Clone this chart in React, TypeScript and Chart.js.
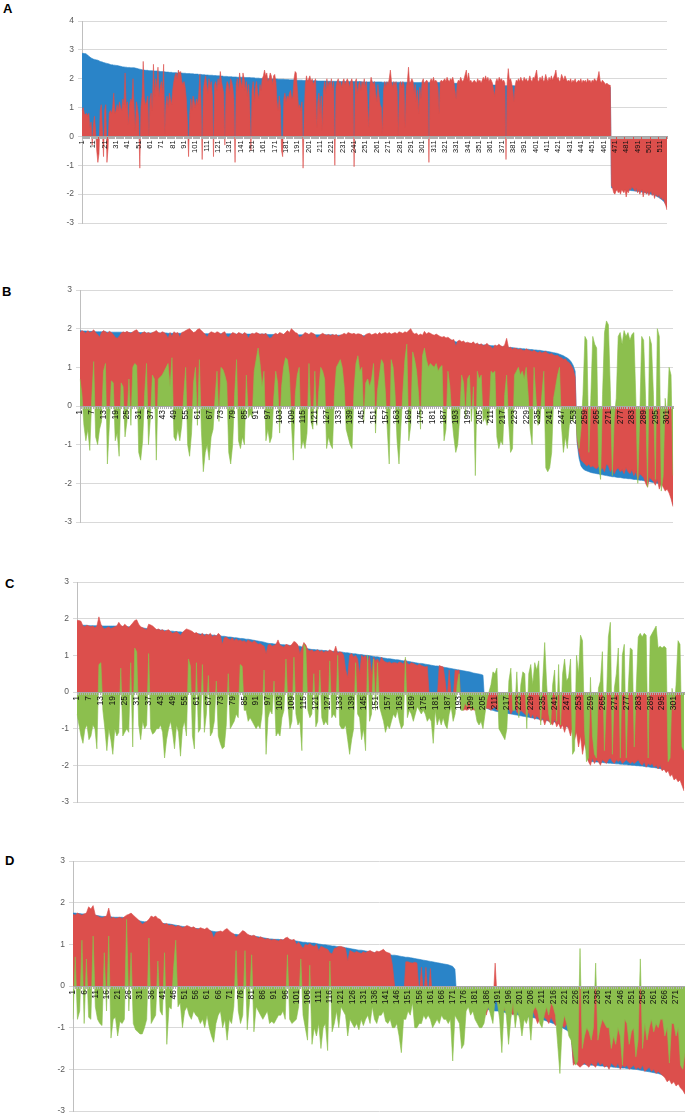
import { useEffect, useRef } from "react";
import { Chart, registerables } from "chart.js";

Chart.register(...registerables);

const BLUE = "#2a84c8";
const RED = "#dc4f4c";
const GREEN = "#8cbf4e";

// ---------- Panel A (517 categories) ----------
const blueA = [
  2.88,2.88,2.87,2.87,2.85,2.82,2.78,2.75,2.72,2.7,
  2.68,2.67,2.66,2.65,2.64,2.62,2.6,2.59,2.58,2.56,
  2.55,2.54,2.53,2.52,2.51,2.49,2.48,2.48,2.47,2.47,
  2.46,2.46,2.45,2.44,2.43,2.42,2.41,2.41,2.4,2.4,
  2.39,2.39,2.39,2.38,2.38,2.38,2.38,2.37,2.36,2.35,
  2.34,2.33,2.32,2.31,2.3,2.3,2.29,2.29,2.29,2.28,
  2.28,2.28,2.28,2.27,2.27,2.27,2.27,2.26,2.26,2.25,
  2.25,2.25,2.24,2.24,2.23,2.23,2.23,2.22,2.22,2.22,
  2.21,2.21,2.21,2.21,2.2,2.2,2.2,2.2,2.2,2.19,
  2.19,2.19,2.18,2.18,2.18,2.18,2.17,2.17,2.17,2.16,
  2.16,2.16,2.16,2.15,2.15,2.15,2.14,2.14,2.14,2.13,
  2.13,2.13,2.12,2.12,2.12,2.12,2.11,2.11,2.11,2.1,
  2.1,2.1,2.09,2.09,2.09,2.08,2.08,2.08,2.08,2.07,
  2.07,2.07,2.07,2.06,2.06,2.06,2.06,2.05,2.05,2.05,
  2.05,2.05,2.05,2.04,2.04,2.04,2.04,2.04,2.04,2.03,
  2.03,2.03,2.03,2.02,2.02,2.02,2.02,2.01,2.01,2.01,
  2.01,2.0,2.0,2.0,2.0,2.0,2.0,1.99,1.99,1.99,
  1.99,1.99,1.99,1.98,1.98,1.98,1.98,1.98,1.98,1.97,
  1.97,1.97,1.97,1.96,1.96,1.96,1.96,1.96,1.96,1.95,
  1.95,1.95,1.95,1.95,1.95,1.94,1.94,1.94,1.94,1.94,
  1.94,1.93,1.93,1.93,1.93,1.93,1.93,1.93,1.92,1.92,
  1.92,1.92,1.92,1.92,1.92,1.92,1.92,1.91,1.91,1.91,
  1.91,1.91,1.91,1.91,1.91,1.91,1.91,1.91,1.9,1.9,
  1.9,1.9,1.9,1.9,1.9,1.9,1.9,1.9,1.9,1.9,
  1.9,1.9,1.9,1.9,1.9,1.9,1.9,1.89,1.89,1.89,
  1.89,1.89,1.89,1.89,1.89,1.89,1.89,1.89,1.89,1.89,
  1.89,1.89,1.89,1.89,1.89,1.88,1.88,1.88,1.88,1.88,
  1.88,1.88,1.88,1.88,1.88,1.88,1.88,1.88,1.88,1.88,
  1.88,1.88,1.88,1.88,1.88,1.88,1.88,1.88,1.88,1.88,
  1.87,1.87,1.87,1.87,1.87,1.87,1.87,1.87,1.87,1.87,
  1.87,1.87,1.87,1.87,1.87,1.87,1.87,1.87,1.87,1.87,
  1.87,1.87,1.87,1.87,1.87,1.87,1.87,1.86,1.86,1.86,
  1.86,1.86,1.86,1.85,1.85,1.85,1.85,1.85,1.84,1.84,
  1.84,1.84,1.84,1.84,1.83,1.83,1.83,1.83,1.83,1.83,
  1.83,1.82,1.82,1.82,1.82,1.82,1.82,1.82,1.82,1.81,
  1.81,1.81,1.81,1.8,1.8,1.8,1.8,1.8,1.79,1.79,
  1.79,1.79,1.79,1.78,1.78,1.78,1.78,1.77,1.77,1.77,
  1.77,1.77,1.76,1.76,1.76,1.76,1.76,1.76,1.76,1.76,
  1.76,1.76,1.75,1.75,1.75,1.75,1.75,1.75,1.75,1.75,
  1.75,1.75,1.75,1.75,1.74,1.74,1.74,1.74,1.74,1.74,
  1.74,1.74,1.74,1.74,1.74,1.74,1.74,1.74,1.73,1.73,
  1.73,1.73,1.73,1.73,1.73,1.73,1.73,1.73,1.73,1.73,
  1.73,1.73,1.73,1.72,1.72,1.72,1.72,1.72,1.72,1.72,
  1.72,1.72,1.72,1.72,1.72,1.72,1.72,1.72,1.72,1.72,
  1.71,1.71,1.71,1.71,1.71,1.71,1.71,1.71,1.71,1.71,
  1.71,1.71,1.71,1.71,1.71,1.71,1.71,1.71,1.71,1.7,
  1.7,1.7,1.7,1.7,1.7,1.7,1.7,-1.78,-1.79,-1.8,
  -1.8,-1.81,-1.81,-1.82,-1.82,-1.83,-1.83,-1.84,-1.84,-1.85,
  -1.85,-1.86,-1.86,-1.87,-1.87,-1.88,-1.88,-1.89,-1.89,-1.9,
  -1.9,-1.91,-1.92,-1.92,-1.93,-1.94,-1.95,-1.95,-1.96,-1.97,
  -1.98,-1.99,-2.0,-2.01,-2.02,-2.04,-2.06,-2.08,-2.1,-2.12,
  -2.15,-2.18,-2.21,-2.25,-2.3,-2.36,-2.45,
];
const redA = [
  0.9,1.0,0.8,0.75,0.8,0.7,0.8,0.3,0.5,-0.3,
  0.4,0.7,0.2,-0.5,-0.9,-0.6,0.9,1.1,0.2,-0.7,
  0.9,1.1,-0.9,-0.4,0.8,0.9,0.8,1.0,1.5,0.8,
  0.9,1.1,0.9,1.2,1.0,0.9,1.3,1.1,2.2,1.0,
  1.2,0.4,1.1,1.3,1.2,2.0,1.0,0.2,1.2,1.0,
  0.6,-1.1,1.0,1.4,2.6,1.3,1.1,1.2,1.4,0.0,
  1.3,1.5,0.9,2.5,1.4,2.0,1.6,2.4,1.4,1.7,
  1.9,1.5,2.5,0.1,1.1,1.4,1.0,1.5,1.3,1.1,
  1.6,1.9,2.1,2.2,2.0,2.3,2.2,2.25,1.9,1.8,
  1.9,1.7,1.3,0.5,-0.7,0.8,1.3,0.9,1.4,1.2,
  1.0,1.3,1.1,1.5,2.15,1.2,-0.8,1.6,1.9,2.1,
  1.8,1.5,2.0,1.7,1.9,1.4,-0.7,1.8,1.9,1.6,
  2.0,1.8,2.25,1.9,1.7,1.5,-0.3,1.6,1.9,1.8,
  1.5,2.0,1.9,1.7,1.3,-0.9,1.8,2.0,1.6,2.2,
  1.9,1.7,2.2,2.0,1.6,1.9,1.4,1.8,1.0,-0.5,
  1.6,1.9,1.2,1.7,1.9,1.5,1.3,1.8,1.6,2.0,
  2.1,2.3,2.1,2.2,1.9,2.0,2.2,2.1,1.8,2.1,
  2.15,1.9,1.2,0.9,1.4,1.0,-0.5,-0.7,1.3,1.5,
  1.2,1.4,1.3,1.5,1.6,1.3,1.4,2.0,2.25,2.2,
  1.6,1.0,1.1,0.9,1.2,-1.1,0.8,1.8,2.1,1.9,
  2.0,2.1,1.9,2.0,1.8,1.9,2.0,0.3,1.2,1.5,
  0.8,1.4,0.2,1.6,1.9,1.5,2.0,1.7,1.9,1.8,
  2.0,1.6,1.9,-1.0,1.7,1.9,2.0,1.8,1.9,1.7,
  1.9,2.0,1.8,1.9,2.0,1.9,1.7,1.9,2.0,1.8,
  -1.05,1.9,2.0,1.5,1.8,1.9,1.6,1.9,1.8,2.0,
  1.7,1.9,1.0,0.3,1.8,2.05,1.9,1.8,1.9,1.5,
  1.2,1.8,1.4,1.1,1.0,0.1,1.6,1.9,1.7,1.9,
  1.8,2.0,2.3,1.9,1.7,1.9,1.8,1.9,1.6,0.0,
  1.8,1.9,1.7,1.9,1.8,0.3,1.7,1.9,2.4,1.8,
  1.9,2.0,1.9,1.5,1.8,1.2,1.6,0.8,1.7,1.3,
  1.9,2.0,1.8,1.9,1.95,1.9,-0.9,1.9,2.0,1.9,
  2.05,1.9,1.95,1.9,1.7,0.8,1.9,1.95,1.9,1.95,
  2.0,1.9,2.05,1.95,1.9,2.0,1.95,2.05,1.9,1.6,
  1.3,1.85,1.95,1.9,2.05,1.95,1.9,2.0,2.15,2.3,
  1.95,2.2,1.9,1.95,1.85,1.9,1.95,1.9,1.85,2.0,
  1.9,1.95,1.85,1.95,2.05,1.95,2.1,1.95,2.05,1.9,
  2.0,1.95,1.85,1.6,1.4,1.9,2.0,1.9,2.05,1.95,
  2.0,1.9,1.95,1.85,-0.8,1.85,2.35,1.95,2.0,1.85,
  1.6,1.2,1.75,1.95,1.9,2.0,1.9,2.05,1.95,1.9,
  2.05,1.95,2.0,1.9,1.95,2.1,1.95,1.9,2.05,2.0,
  2.15,2.3,1.95,1.9,2.05,1.95,2.1,1.9,1.95,2.15,
  2.0,1.9,2.05,1.95,2.1,1.95,2.05,2.15,2.3,2.0,
  2.05,1.9,1.95,2.15,2.05,1.95,2.1,2.0,1.9,1.95,
  1.9,2.0,1.85,1.95,1.9,2.0,1.85,1.9,1.95,1.9,
  2.0,1.85,1.95,1.9,1.95,1.85,2.0,1.9,1.95,1.85,
  1.95,1.9,2.0,1.95,1.9,2.05,2.25,1.95,1.85,1.95,
  1.9,1.85,1.8,1.85,1.8,1.78,1.77,-1.7,-1.8,-1.95,
  -2.0,-1.9,-1.85,-1.95,-1.9,-2.0,-1.85,-1.9,-1.95,-1.85,
  -2.1,-1.9,-1.95,-1.8,-1.85,-1.75,-1.8,-1.85,-1.9,-1.8,
  -1.95,-1.85,-2.0,-1.9,-1.85,-2.1,-1.9,-1.95,-2.0,-1.9,
  -2.05,-1.95,-1.9,-2.05,-1.95,-2.15,-2.0,-2.05,-2.1,-2.0,
  -2.15,-2.1,-2.2,-2.15,-2.3,-2.4,-2.55,
];

// ---------- Panel B (304 categories) ----------
const blueB = [
  1.95,1.94,1.94,1.94,1.93,1.93,1.93,1.93,1.92,1.92,
  1.92,1.92,1.92,1.92,1.91,1.91,1.91,1.91,1.91,1.91,
  1.91,1.91,1.9,1.9,1.9,1.9,1.9,1.9,1.9,1.9,
  1.9,1.9,1.9,1.89,1.89,1.89,1.89,1.89,1.89,1.89,
  1.89,1.89,1.89,1.89,1.89,1.88,1.88,1.88,1.88,1.88,
  1.88,1.88,1.88,1.88,1.88,1.88,1.88,1.88,1.88,1.88,
  1.88,1.88,1.88,1.87,1.87,1.87,1.87,1.87,1.87,1.87,
  1.87,1.87,1.87,1.87,1.87,1.87,1.87,1.87,1.86,1.86,
  1.86,1.86,1.86,1.86,1.86,1.86,1.86,1.86,1.86,1.86,
  1.86,1.86,1.86,1.86,1.86,1.86,1.85,1.85,1.85,1.85,
  1.85,1.85,1.85,1.85,1.85,1.85,1.85,1.85,1.85,1.85,
  1.85,1.84,1.84,1.84,1.84,1.84,1.84,1.84,1.84,1.84,
  1.84,1.84,1.84,1.84,1.84,1.84,1.84,1.84,1.84,1.84,
  1.83,1.83,1.83,1.83,1.83,1.83,1.83,1.83,1.83,1.83,
  1.83,1.83,1.83,1.82,1.82,1.82,1.82,1.82,1.82,1.82,
  1.82,1.82,1.82,1.82,1.82,1.82,1.81,1.81,1.81,1.81,
  1.81,1.81,1.81,1.81,1.81,1.8,1.8,1.8,1.8,1.8,
  1.8,1.8,1.8,1.79,1.79,1.79,1.79,1.79,1.78,1.78,
  1.78,1.77,1.77,1.76,1.76,1.75,1.74,1.73,1.72,1.71,
  1.7,1.68,1.66,1.65,1.64,1.64,1.63,1.63,1.62,1.62,
  1.61,1.61,1.6,1.6,1.59,1.59,1.58,1.58,1.57,1.57,
  1.56,1.56,1.55,1.55,1.54,1.54,1.53,1.53,1.52,1.52,
  1.51,1.51,1.5,1.5,1.49,1.49,1.48,1.48,1.47,1.47,
  1.46,1.46,1.45,1.45,1.44,1.44,1.43,1.42,1.42,1.41,
  1.4,1.39,1.38,1.37,1.36,1.34,1.32,1.3,1.27,1.24,
  1.2,1.14,1.05,0.9,-0.95,-1.35,-1.55,-1.62,-1.66,-1.68,
  -1.7,-1.72,-1.73,-1.74,-1.75,-1.76,-1.77,-1.78,-1.79,-1.8,
  -1.81,-1.82,-1.83,-1.83,-1.84,-1.85,-1.85,-1.86,-1.87,-1.87,
  -1.88,-1.88,-1.89,-1.9,-1.9,-1.91,-1.92,-1.92,-1.93,-1.94,
  -1.95,-1.96,-1.97,-1.98,-1.99,-2.0,-2.01,-2.03,-2.05,-2.08,
  -2.12,-2.18,-2.3,-2.55,
];
const redB = [
  1.9,1.95,1.92,1.88,1.95,1.9,1.92,1.97,1.9,1.85,
  1.78,1.9,1.95,1.92,1.88,1.93,1.9,1.85,1.78,1.75,
  1.8,1.88,1.92,1.9,1.93,1.9,1.88,1.92,1.95,1.97,
  1.9,1.85,1.9,1.92,1.88,1.9,1.87,1.9,1.92,1.95,
  1.9,1.88,1.92,1.9,1.85,1.75,1.9,1.8,1.92,1.88,
  1.9,1.78,1.9,1.92,1.95,1.98,2.0,1.95,1.9,1.92,
  1.98,2.0,1.95,1.9,1.85,1.78,1.88,1.92,1.9,1.88,
  1.92,1.9,1.85,1.9,1.92,1.8,1.78,1.85,1.9,1.88,
  1.85,1.9,1.88,1.85,1.9,1.87,1.75,1.85,1.88,1.86,
  1.9,1.88,1.85,1.87,1.85,1.88,1.8,1.75,1.78,1.85,
  1.88,1.85,1.9,1.88,1.85,1.9,1.95,1.9,2.0,1.95,
  1.9,1.88,1.78,1.8,1.85,1.9,1.88,1.85,1.9,1.88,
  1.85,1.75,1.8,1.85,1.88,1.85,1.83,1.85,1.82,1.85,
  1.83,1.85,1.8,1.83,1.85,1.88,1.85,1.9,1.88,1.86,
  1.88,1.85,1.87,1.86,1.84,1.78,1.85,1.87,1.88,1.84,
  1.86,1.88,1.85,1.9,1.86,1.88,1.9,1.87,1.9,1.86,
  1.88,1.9,1.87,1.92,1.9,1.88,1.92,1.9,1.95,2.0,
  1.9,1.86,1.88,1.83,1.86,1.83,1.93,1.86,1.9,1.88,
  1.85,1.83,1.86,1.83,1.8,1.78,1.8,1.76,1.78,1.74,
  1.7,1.72,1.55,1.68,1.7,1.66,1.68,1.63,1.65,1.63,
  1.62,1.66,1.6,1.63,1.58,1.61,1.56,1.58,1.62,1.56,
  1.53,1.48,1.58,1.55,1.6,1.56,1.53,1.58,1.75,1.5,
  1.52,1.47,1.5,1.48,1.46,1.48,1.45,1.43,1.48,1.45,
  1.43,1.41,1.44,1.4,1.38,1.41,1.37,1.39,1.41,1.36,
  1.34,1.36,1.32,1.3,1.31,1.27,1.25,1.2,1.22,1.15,
  1.12,1.05,0.95,0.75,-0.9,-1.2,-1.4,-1.45,-1.5,-1.55,
  -1.5,-1.58,-1.55,-1.6,-1.62,-1.55,-1.65,-1.6,-1.7,-1.5,
  -1.55,-1.7,-1.6,-1.75,-1.65,-1.6,-1.7,-1.65,-1.75,-1.6,
  -1.7,-1.75,-1.65,-1.8,-1.7,-1.9,-1.75,-1.8,-1.85,-2.0,
  -2.1,-1.85,-1.9,-1.95,-2.05,-1.9,-2.15,-2.0,-2.1,-2.2,
  -2.15,-2.25,-2.4,-2.6,
];
const greenB = [
  0.7,0.3,-0.5,-0.9,-0.6,-1.15,0.2,1.15,-0.8,-1.0,
  -0.6,-0.4,0.9,1.1,-1.5,-0.5,0.65,0.6,-0.9,-0.7,
  -1.3,0.6,0.5,-0.8,-0.4,0.7,-0.5,1.0,1.1,1.05,
  -1.2,-1.4,-0.9,0.3,1.1,-1.0,-0.3,0.8,0.7,-1.4,
  0.7,0.75,0.8,0.9,1.0,1.1,0.5,1.25,-0.8,-0.9,
  -0.6,-0.9,-0.5,0.3,1.0,-1.0,-1.3,-0.7,0.6,1.0,
  -0.5,1.2,-0.6,-1.7,-1.2,-1.0,-1.4,-0.8,-0.6,0.2,
  0.9,-0.4,1.0,0.95,0.8,0.6,-1.2,-1.5,-1.0,0.3,
  1.2,-0.9,-1.1,-0.8,-1.0,0.8,-0.3,-0.2,-0.3,0.9,
  1.2,1.5,1.1,0.5,0.9,-0.9,-0.6,-0.95,-0.8,0.2,
  0.9,0.6,-0.7,0.5,1.0,1.25,1.2,0.8,-0.4,-1.4,
  0.3,0.8,1.0,-1.1,-0.9,-1.1,-0.7,1.1,-0.4,-0.6,
  0.9,-0.5,0.4,1.0,0.9,0.7,-1.1,-0.8,-1.0,-1.1,
  0.3,1.0,1.1,1.2,1.0,0.5,-0.6,-0.8,-1.0,-1.1,
  0.4,1.1,1.3,0.9,1.0,-0.4,0.6,0.7,0.5,0.7,
  1.1,-0.7,0.4,0.8,1.2,1.1,0.4,-0.6,-1.5,1.2,
  1.0,0.3,-0.9,-1.5,-0.5,0.4,1.2,1.6,-0.9,-0.5,
  1.4,1.2,0.9,0.3,-0.6,1.3,1.5,1.2,1.0,1.1,
  1.05,1.0,1.1,0.9,1.0,1.05,-0.9,-0.6,0.9,0.5,
  -0.3,-0.8,-1.2,-1.0,-0.3,0.8,0.6,-0.3,0.7,0.8,
  -0.4,0.5,-1.8,0.9,0.7,0.8,-0.4,-0.3,-0.5,-0.3,
  0.9,0.85,0.9,-0.8,-1.1,-0.9,-1.0,0.3,0.8,-0.4,
  -1.2,-1.1,0.8,0.9,1.0,0.8,0.9,0.7,1.0,0.3,
  -0.6,-1.0,1.0,0.2,-0.5,-0.4,0.3,0.9,-1.6,-1.7,
  -1.6,-1.2,0.2,0.5,0.8,1.0,-0.5,-1.2,-0.8,-1.1,
  -0.5,-0.3,-0.4,0.0,-0.8,-1.1,-0.6,0.3,1.8,1.7,
  -1.2,0.2,1.8,1.6,1.5,-1.5,-1.9,0.3,1.9,2.2,
  2.1,0.4,-1.8,-0.3,0.2,1.8,1.9,1.6,1.95,1.8,
  1.9,1.7,1.85,1.9,0.2,-2.0,-0.3,1.8,1.7,0.2,
  -2.1,1.8,1.6,0.3,-1.9,2.0,1.8,-2.2,-1.8,0.2,
  -0.3,1.0,0.8,-1.8,
];

// ---------- Panel C (306 categories) ----------
const blueC = [
  1.83,1.83,1.82,1.82,1.82,1.82,1.81,1.81,1.81,1.81,
  1.81,1.81,1.81,1.8,1.8,1.8,1.8,1.8,1.8,1.8,
  1.8,1.79,1.79,1.79,1.78,1.78,1.78,1.77,1.77,1.77,
  1.76,1.76,1.75,1.75,1.74,1.73,1.73,1.72,1.71,1.71,
  1.7,1.7,1.69,1.69,1.68,1.67,1.67,1.66,1.66,1.65,
  1.65,1.64,1.64,1.63,1.63,1.62,1.62,1.61,1.6,1.6,
  1.59,1.59,1.58,1.58,1.57,1.57,1.56,1.56,1.55,1.55,
  1.54,1.53,1.53,1.52,1.52,1.51,1.5,1.5,1.49,1.48,
  1.48,1.47,1.46,1.46,1.45,1.44,1.44,1.43,1.42,1.41,
  1.4,1.39,1.38,1.37,1.36,1.34,1.33,1.32,1.32,1.31,
  1.31,1.3,1.3,1.29,1.29,1.28,1.28,1.27,1.27,1.26,
  1.26,1.25,1.25,1.23,1.21,1.19,1.18,1.17,1.16,1.16,
  1.15,1.15,1.14,1.14,1.13,1.13,1.12,1.12,1.11,1.11,
  1.1,1.1,1.09,1.09,1.08,1.07,1.07,1.06,1.05,1.04,
  1.04,1.03,1.02,1.02,1.01,1.0,1.0,0.99,0.98,0.97,
  0.96,0.96,0.95,0.94,0.93,0.92,0.91,0.91,0.9,0.89,
  0.88,0.88,0.87,0.86,0.85,0.85,0.84,0.83,0.82,0.81,
  0.8,0.79,0.78,0.78,0.77,0.76,0.75,0.74,0.73,0.72,
  0.71,0.71,0.7,0.69,0.68,0.67,0.66,0.65,0.64,0.63,
  0.62,0.61,0.6,0.59,0.58,0.57,0.56,0.55,0.54,0.52,
  0.51,0.5,0.49,0.48,0.46,-0.42,-0.45,-0.47,-0.49,-0.5,
  -0.52,-0.53,-0.54,-0.55,-0.56,-0.57,-0.58,-0.59,-0.6,-0.61,
  -0.62,-0.63,-0.64,-0.65,-0.66,-0.67,-0.68,-0.69,-0.7,-0.71,
  -0.72,-0.73,-0.74,-0.75,-0.76,-0.77,-0.78,-0.79,-0.8,-0.81,
  -0.82,-0.84,-0.86,-0.88,-0.9,-0.92,-0.94,-0.96,-0.98,-1.0,
  -1.03,-1.06,-1.1,-1.14,-1.18,-1.22,-1.28,-1.88,-1.89,-1.9,
  -1.9,-1.91,-1.91,-1.92,-1.92,-1.93,-1.93,-1.94,-1.94,-1.95,
  -1.95,-1.96,-1.96,-1.97,-1.97,-1.98,-1.98,-1.99,-1.99,-2.0,
  -2.0,-2.01,-2.01,-2.02,-2.02,-2.03,-2.04,-2.04,-2.05,-2.06,
  -2.06,-2.07,-2.08,-2.09,-2.1,-2.11,-2.12,-2.13,-2.15,-2.17,
  -2.19,-2.22,-2.26,-2.32,-2.4,-2.62,
];
const redC = [
  1.95,1.95,1.93,1.8,1.78,1.82,1.8,1.78,1.8,1.75,
  1.8,2.05,1.85,1.75,1.72,1.75,1.78,1.73,1.75,1.78,
  1.8,1.9,1.82,1.78,1.85,1.8,1.75,1.82,1.88,1.95,
  1.97,1.85,1.78,1.75,1.72,1.7,1.85,1.83,1.8,1.75,
  1.7,1.72,1.68,1.7,1.65,1.68,1.7,1.65,1.6,1.62,
  1.65,1.6,1.55,1.62,1.68,1.72,1.7,1.68,1.65,1.6,
  1.62,1.58,1.55,1.6,1.52,1.58,1.55,1.6,1.5,1.55,
  1.52,1.6,1.55,1.3,1.48,1.5,1.45,1.42,1.48,1.4,
  1.45,1.4,1.42,1.38,1.4,1.35,1.42,1.38,1.35,1.4,
  1.35,1.3,1.32,1.28,1.25,1.05,1.28,1.3,1.25,1.27,
  1.3,1.42,1.28,1.25,1.22,1.3,1.28,1.25,1.3,1.38,
  1.35,1.28,1.05,1.2,1.35,1.28,1.15,1.12,1.15,1.1,
  1.12,1.15,1.1,1.13,1.08,1.12,1.1,1.15,1.12,1.08,
  1.25,1.05,1.1,1.08,1.0,0.6,0.4,1.0,1.05,0.95,
  1.0,0.9,0.5,1.0,0.95,1.0,0.8,0.98,0.5,0.95,
  0.85,0.9,0.8,0.95,0.85,0.82,0.8,0.82,0.78,0.8,
  0.8,0.78,0.82,0.8,0.76,0.9,0.78,0.75,0.8,0.78,
  0.75,0.72,0.76,0.72,0.7,0.68,0.7,-0.1,-0.2,-0.15,
  -0.1,-0.2,0.72,0.7,0.68,0.3,-0.2,0.6,-0.1,-0.2,
  0.6,0.58,0.6,-0.45,-0.5,-0.48,-0.5,-0.45,-0.5,-0.48,
  -0.5,-0.45,-0.48,-0.5,-0.45,-0.4,-0.45,-0.45,-0.5,-0.45,
  -0.4,-0.5,-0.48,-0.45,-0.5,-0.55,-0.5,-0.45,-0.6,-0.5,
  -0.3,-0.55,-0.6,-0.5,-0.55,-0.6,-0.65,-0.55,-0.7,-0.6,
  -0.75,-0.65,-0.7,-0.8,-0.7,-0.9,-0.75,-0.8,-0.85,-0.9,
  -0.75,-0.95,-0.85,-1.0,-0.9,-1.1,-0.9,-1.0,-1.2,-0.95,
  -1.3,-1.1,-1.5,-1.2,-1.7,-1.4,-1.6,-1.9,-2.0,-1.8,
  -1.95,-1.85,-1.9,-2.0,-1.85,-1.9,-1.95,-1.85,-1.8,-1.9,
  -1.95,-1.85,-1.9,-1.85,-1.95,-1.9,-1.85,-1.9,-1.95,-1.9,
  -1.95,-1.9,-1.85,-1.95,-2.0,-1.9,-2.05,-1.95,-2.0,-1.95,
  -2.05,-2.0,-2.1,-2.0,-2.15,-2.1,-2.2,-2.15,-2.3,-2.25,
  -2.4,-2.35,-2.45,-2.4,-2.55,-2.7,
];
const greenC = [
  -0.6,-0.9,-1.2,-1.4,-1.0,-0.9,-1.3,-1.2,-0.9,-1.0,
  -1.55,0.75,0.8,-0.5,-1.0,-1.6,-1.0,-1.3,-1.7,-1.0,
  -1.2,-1.1,0.65,-1.2,-1.1,-1.0,-1.1,0.8,-1.5,1.2,
  1.1,-0.9,-1.3,-0.8,-1.0,-0.9,1.05,-1.0,-1.15,-1.1,
  -1.0,-1.0,-0.9,-1.1,-1.8,-1.3,-1.0,-0.8,-1.1,-1.55,
  -0.9,-1.1,-1.75,-1.0,-0.8,-1.2,0.9,0.7,-1.2,-1.55,
  0.8,-1.1,-1.0,0.75,-1.1,-0.6,0.45,-1.2,-1.1,-0.8,
  0.3,-1.2,-1.4,-1.55,-1.5,-0.9,0.5,-1.0,-0.9,-0.8,
  -0.6,-0.7,0.75,0.7,-0.5,-0.5,-0.8,-0.7,-0.8,-0.9,
  -1.0,-0.9,-1.0,-0.6,0.6,-1.7,-0.7,-0.5,-0.6,0.3,
  -1.2,-1.1,-1.2,-0.7,-0.5,0.9,-0.4,-1.0,-0.8,0.95,
  -0.6,-0.9,-0.8,-1.6,1.3,1.2,-0.5,-0.7,-0.6,0.5,
  -0.95,-0.8,0.6,-0.7,-0.9,-0.8,-0.9,0.85,-0.7,-0.6,
  -0.7,1.0,-0.9,-1.0,-1.0,-0.9,-1.3,-1.7,-1.3,-1.0,
  0.8,-0.6,-0.7,-1.3,-1.0,-1.6,1.0,-0.8,-0.6,0.9,
  -0.5,0.8,-0.4,-0.6,-0.8,-1.1,-0.9,-1.0,-0.8,-0.6,
  -0.7,-0.5,-0.8,-1.0,-0.9,0.95,-0.7,-0.5,-0.6,-0.8,
  -0.6,-0.4,-0.5,-0.6,-0.5,-0.6,-0.8,-0.7,-0.8,-1.4,
  -0.5,-0.9,-0.7,-0.9,-0.7,-0.9,-1.0,-0.6,-0.4,-0.8,
  -0.6,0.2,0.5,-0.5,-0.5,-0.3,-0.4,-0.2,-0.5,-0.4,
  -0.5,-0.8,-0.9,-0.8,-1.0,-0.6,-0.2,0.0,0.2,0.55,
  0.5,0.65,-1.0,-1.1,-1.2,-1.3,-1.0,0.3,0.65,-0.5,
  -0.5,0.55,-0.7,0.2,0.55,0.5,-1.0,0.5,0.75,0.2,
  0.8,0.6,0.85,-0.9,0.3,1.35,0.2,-0.6,-0.9,0.2,
  0.6,-0.8,0.75,-0.9,0.5,0.9,0.3,0.4,0.9,-1.7,
  -1.6,1.0,0.5,1.55,1.4,-1.0,-1.9,-1.8,0.4,-1.2,
  -1.7,-1.8,0.1,0.3,1.1,-1.6,-0.3,1.5,1.9,-1.7,
  0.1,0.5,1.2,-1.8,1.0,1.3,-1.8,0.1,1.2,1.15,
  -1.5,0.1,1.5,1.6,1.5,1.6,1.55,-1.8,1.5,1.6,
  1.7,1.8,1.2,1.25,1.2,1.25,1.2,-1.9,-1.8,0.1,
  -0.5,0.2,1.4,1.3,-1.5,-1.6,
];

// ---------- Panel D (275 categories) ----------
const blueD = [
  1.75,1.75,1.74,1.74,1.73,1.73,1.72,1.72,1.71,1.71,
  1.7,1.69,1.68,1.67,1.67,1.66,1.66,1.66,1.65,1.65,
  1.65,1.65,1.65,1.64,1.64,1.64,1.63,1.62,1.6,1.58,
  1.56,1.55,1.54,1.54,1.53,1.53,1.52,1.52,1.51,1.51,
  1.5,1.5,1.49,1.49,1.48,1.47,1.46,1.45,1.44,1.43,
  1.42,1.41,1.41,1.4,1.39,1.38,1.38,1.37,1.36,1.35,
  1.34,1.33,1.32,1.31,1.3,1.3,1.29,1.28,1.27,1.27,
  1.26,1.25,1.24,1.24,1.23,1.23,1.22,1.22,1.21,1.21,
  1.2,1.2,1.19,1.18,1.17,1.16,1.15,1.14,1.13,1.13,
  1.12,1.12,1.12,1.11,1.11,1.11,1.1,1.1,1.1,1.09,
  1.08,1.07,1.06,1.05,1.05,1.04,1.04,1.03,1.03,1.02,
  1.01,1.0,0.99,0.99,0.98,0.97,0.96,0.96,0.95,0.94,
  0.93,0.93,0.92,0.91,0.9,0.89,0.88,0.87,0.86,0.86,
  0.85,0.84,0.83,0.82,0.81,0.8,0.8,0.79,0.78,0.77,
  0.77,0.76,0.75,0.74,0.74,0.73,0.72,0.71,0.7,0.69,
  0.69,0.68,0.67,0.66,0.65,0.64,0.63,0.62,0.61,0.6,
  0.59,0.58,0.57,0.56,0.55,0.54,0.53,0.52,0.51,0.49,
  0.47,0.4,-0.45,-0.46,-0.47,-0.48,-0.49,-0.5,-0.5,-0.51,
  -0.52,-0.53,-0.54,-0.55,-0.55,-0.56,-0.57,-0.58,-0.59,-0.6,
  -0.6,-0.61,-0.62,-0.63,-0.64,-0.65,-0.66,-0.67,-0.68,-0.69,
  -0.7,-0.71,-0.72,-0.73,-0.74,-0.75,-0.76,-0.77,-0.78,-0.79,
  -0.8,-0.82,-0.84,-0.86,-0.88,-0.9,-0.92,-0.94,-0.97,-1.0,
  -1.03,-1.06,-1.1,-1.15,-1.85,-1.86,-1.87,-1.87,-1.88,-1.88,
  -1.89,-1.89,-1.9,-1.9,-1.91,-1.91,-1.92,-1.92,-1.93,-1.93,
  -1.94,-1.94,-1.95,-1.95,-1.96,-1.96,-1.97,-1.97,-1.98,-1.98,
  -1.99,-2.0,-2.0,-2.01,-2.02,-2.03,-2.04,-2.05,-2.06,-2.07,
  -2.08,-2.09,-2.1,-2.12,-2.14,-2.16,-2.18,-2.2,-2.22,-2.25,
  -2.28,-2.32,-2.37,-2.43,-2.5,
];
const redD = [
  1.72,1.7,1.75,1.72,1.7,1.73,1.75,1.9,1.85,1.93,
  1.7,1.68,1.65,1.63,1.66,1.68,1.87,1.62,1.65,1.62,
  1.63,1.65,1.62,1.66,1.7,1.72,1.75,1.7,1.65,1.6,
  1.55,1.48,1.52,1.55,1.6,1.68,1.65,1.68,1.62,1.6,
  1.52,1.48,1.5,1.45,1.47,1.45,1.42,1.45,1.43,1.4,
  1.42,1.45,1.43,1.4,1.42,1.38,1.36,1.4,1.38,1.36,
  1.4,1.35,1.3,1.15,1.28,1.3,1.32,1.3,1.35,1.38,
  1.32,1.28,1.25,1.17,1.22,1.28,1.33,1.3,1.25,1.22,
  1.2,1.22,1.18,1.15,1.18,1.15,1.12,1.14,1.12,1.1,
  1.12,1.1,1.08,1.12,1.1,1.15,1.17,1.12,1.1,1.12,
  1.0,1.05,0.98,0.9,1.0,0.98,1.02,0.97,0.95,1.0,
  0.85,0.95,0.93,0.9,0.88,0.8,0.77,0.9,0.92,0.95,
  0.95,0.93,0.9,0.6,0.85,0.82,0.8,0.83,0.8,0.78,
  0.82,0.8,0.83,0.85,0.82,0.8,0.84,0.82,0.85,0.88,
  0.82,0.8,0.78,0.5,0.0,-0.3,-0.4,-0.5,-0.3,0.58,
  0.58,0.56,0.55,0.57,0.55,-0.2,0.45,-0.3,0.45,-0.3,
  0.42,-0.4,-0.3,-0.5,-0.4,-0.3,-0.5,-0.4,-0.3,-0.5,
  -0.4,-0.3,-0.4,-0.3,-0.5,-0.4,-0.3,-0.4,-0.5,-0.3,
  -0.4,-0.5,-0.4,-0.6,-0.5,-0.7,-0.5,-0.4,-0.5,0.55,
  -0.4,-0.5,-0.4,-0.6,-0.5,-0.7,-0.6,-0.7,-0.5,-0.6,
  -0.5,-0.6,-0.7,-0.6,-0.65,-0.7,-0.6,-0.75,-0.9,-0.8,
  -0.7,-0.75,-0.8,-0.9,-0.75,-0.85,-0.95,-0.9,-0.85,-0.95,
  -1.0,-0.9,-1.05,-1.1,-1.9,-1.85,-1.9,-1.95,-1.9,-1.85,
  -1.9,-1.95,-1.85,-1.9,-1.95,-1.8,-1.9,-1.85,-1.95,-1.9,
  -2.0,-1.85,-1.9,-1.95,-1.85,-2.0,-1.9,-1.95,-1.9,-2.0,
  -1.95,-1.9,-2.0,-1.95,-2.0,-1.9,-2.05,-2.0,-1.95,-2.05,
  -2.0,-2.1,-2.05,-2.1,-2.15,-2.2,-2.3,-2.25,-2.35,-2.3,
  -2.4,-2.35,-2.45,-2.5,-2.6,
];
const greenD = [
  -0.8,0.7,-0.8,-0.6,1.1,-0.9,0.65,-0.75,-0.8,1.2,
  -0.5,-0.8,-0.9,-0.95,0.8,-0.6,1.2,-1.25,-0.8,-0.75,
  -1.2,-0.85,-0.9,-0.8,1.6,-0.6,0.8,-0.9,-1.05,-1.1,
  -1.15,-1.15,-1.0,-0.8,1.15,-0.9,-0.8,-0.7,0.6,-0.6,
  -0.7,0.8,-1.4,-0.5,-0.55,0.4,1.1,-0.5,-0.4,-1.0,
  -0.6,-0.5,-0.7,-0.8,-0.6,-0.7,-0.75,-0.9,-0.8,-1.0,
  -0.7,-1.0,-1.2,-1.35,-0.9,-0.7,-0.6,-1.0,-0.8,-1.3,
  -0.8,-0.9,-0.5,0.85,-0.6,-0.9,-0.7,0.85,-1.05,-0.4,
  0.75,-1.1,-0.5,-0.6,-0.7,-0.8,-0.7,-0.6,-0.9,-0.85,
  -0.9,-0.8,-0.7,-0.7,-0.6,-0.8,0.75,-0.8,-0.9,-0.85,
  -0.8,-0.5,0.65,-0.7,-1.0,-1.3,0.5,-1.4,-1.0,-1.2,
  -0.9,-1.5,-1.0,-0.9,-1.55,0.6,-1.1,-0.9,-0.6,-1.0,
  -0.5,-0.6,-0.7,-1.2,-0.8,-0.9,-1.0,-0.9,-1.05,-0.8,
  -0.95,-0.8,-0.7,-0.9,-0.5,-0.8,-0.9,-0.7,-0.7,-0.6,
  -0.85,-0.9,-0.8,-1.0,-1.0,-0.9,-1.2,-1.6,-0.8,-0.8,
  -0.6,-0.7,-0.4,-1.0,-1.0,-0.9,-0.9,-0.7,-0.8,-0.7,
  -0.8,-1.0,-0.9,-0.8,-0.9,-0.7,-0.8,-0.8,-0.9,-0.8,
  -1.8,-0.7,-0.8,-0.9,-1.5,-1.4,-0.6,-0.5,-0.7,-0.6,
  -0.8,-0.9,-1.0,-1.0,-0.9,-0.6,-0.5,-0.7,-0.9,-0.3,
  -0.4,-0.8,-1.6,-0.5,-0.7,-1.4,-0.8,-0.4,-1.0,-0.6,
  -0.8,-1.2,-0.8,-0.9,-0.7,-1.3,-0.6,-0.5,-0.6,-0.9,
  -1.0,-0.7,-0.5,-0.7,-0.4,-0.5,-0.7,-1.4,-2.1,-1.0,
  -0.7,-0.9,-1.2,-1.3,-1.6,-1.9,-1.8,0.9,-1.5,-1.2,
  -1.0,-1.1,-1.3,-1.0,0.55,-1.3,-1.0,-0.8,-0.9,-1.0,
  -1.0,-1.5,-1.2,-1.4,-1.0,-1.2,-1.9,-0.8,-0.9,-1.4,
  -1.1,-1.0,-1.7,-1.3,0.65,-1.5,-0.9,-1.3,-1.0,-0.8,
  -1.1,-0.9,-1.0,-0.8,-0.8,-1.2,-1.0,-1.85,-0.9,-0.9,
  -1.2,-1.0,-1.9,-2.0,-1.6,
];

// ---------- Panel layout ----------
type Series = { data: number[]; color: string };
type PanelCfg = {
  letter: string;
  letterTop: number;
  letterLeft: number;
  top: number;
  height: number;
  plotTop: number;
  plotBottom: number;
  plotLeft: number;
  plotRight: number;
  yMin: number;
  yMax: number;
  step: number;
  xFont: number;
  series: Series[]; // first entry is drawn on top
};

const panels: PanelCfg[] = [
  {
    letter: "A", letterTop: 2, letterLeft: 3,
    top: 0, height: 245, plotTop: 21, plotBottom: 223, plotLeft: 82, plotRight: 667,
    yMin: -3, yMax: 4, step: 10, xFont: 7.5,
    series: [ { data: redA, color: RED }, { data: blueA, color: BLUE } ],
  },
  {
    letter: "B", letterTop: 285, letterLeft: 2,
    top: 268, height: 268, plotTop: 290, plotBottom: 522, plotLeft: 80, plotRight: 673,
    yMin: -3, yMax: 3, step: 6, xFont: 8.5,
    series: [ { data: greenB, color: GREEN }, { data: redB, color: RED }, { data: blueB, color: BLUE } ],
  },
  {
    letter: "C", letterTop: 577, letterLeft: 5,
    top: 562, height: 250, plotTop: 582, plotBottom: 802, plotLeft: 77, plotRight: 684,
    yMin: -3, yMax: 3, step: 6, xFont: 8.5,
    series: [ { data: greenC, color: GREEN }, { data: redC, color: RED }, { data: blueC, color: BLUE } ],
  },
  {
    letter: "D", letterTop: 854, letterLeft: 5,
    top: 842, height: 273, plotTop: 861, plotBottom: 1111, plotLeft: 73, plotRight: 685,
    yMin: -3, yMax: 3, step: 5, xFont: 8.5,
    series: [ { data: greenD, color: GREEN }, { data: redD, color: RED }, { data: blueD, color: BLUE } ],
  },
];

const FONT = "'Liberation Sans', Arial, sans-serif";

function Panel({ cfg }: { cfg: PanelCfg }) {
  const ref = useRef<HTMLCanvasElement>(null);
  useEffect(() => {
    const n = cfg.series[0].data.length;
    const labels = Array.from({ length: n }, (_, i) => String(i + 1));
    const chart = new Chart(ref.current as HTMLCanvasElement, {
      type: "line",
      data: {
        labels,
        datasets: cfg.series.map((s) => ({
          data: s.data,
          backgroundColor: s.color,
          borderColor: s.color,
          borderWidth: 0.6,
          fill: "origin",
          pointRadius: 0,
          tension: 0,
        })),
      },
      options: {
        animation: false,
        responsive: false,
        maintainAspectRatio: false,
        events: [],
        plugins: { legend: { display: false }, tooltip: { enabled: false } },
        layout: {
          padding: {
            top: cfg.plotTop - cfg.top,
            bottom: cfg.top + cfg.height - cfg.plotBottom,
            left: 0,
            right: 685 - cfg.plotRight,
          },
        },
        scales: {
          x: {
            type: "category",
            position: { y: 0 },
            offset: false,
            z: 1,
            grid: { z: 1, drawOnChartArea: false, drawTicks: true, tickLength: 2, color: "#b0b0b0", lineWidth: 1 },
            border: { z: 1, display: true, color: "#a6a6a6", width: 1 },
            ticks: {
              z: 2,
              autoSkip: false,
              minRotation: 90,
              maxRotation: 90,
              padding: 2,
              color: "#111111",
              font: { family: FONT, size: cfg.xFont },
              callback: (_v: any, i: number) => (i % cfg.step === 0 ? labels[i] : ""),
            },
            afterFit: (s: any) => {
              s.height = 0;
              s.paddingLeft = 0;
              s.paddingRight = 0;
            },
          },
          y: {
            position: "left",
            min: cfg.yMin,
            max: cfg.yMax,
            ticks: { stepSize: 1, color: "#595959", padding: 4, font: { family: FONT, size: 8.5 } },
            grid: { color: "#d9d9d9", lineWidth: 1, tickLength: 4 },
            border: { color: "#bfbfbf", width: 1 },
            afterFit: (s: any) => {
              s.width = cfg.plotLeft;
              s.paddingTop = 0;
              s.paddingBottom = 0;
            },
          },
        },
      } as any,
    });
    return () => chart.destroy();
  }, [cfg]);

  return (
    <>
      <div
        style={{
          position: "absolute",
          left: cfg.letterLeft,
          top: cfg.letterTop,
          font: `bold 13px ${FONT}`,
          lineHeight: "13px",
          color: "#000",
        }}
      >
        {cfg.letter}
      </div>
      <canvas
        ref={ref}
        width={685}
        height={cfg.height}
        style={{ position: "absolute", left: 0, top: cfg.top, width: 685, height: cfg.height }}
      />
    </>
  );
}

export default function App() {
  return (
    <div
      style={{
        position: "absolute",
        left: 0,
        top: 0,
        width: 685,
        height: 1115,
        overflow: "hidden",
        background: "#fff",
      }}
    >
      {panels.map((p) => (
        <Panel key={p.letter} cfg={p} />
      ))}
    </div>
  );
}
